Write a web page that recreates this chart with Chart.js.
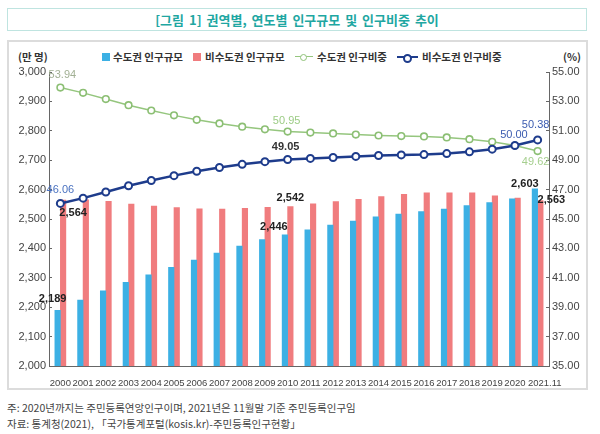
<!DOCTYPE html>
<html><head><meta charset="utf-8">
<script src="https://cdn.jsdelivr.net/npm/chart.js@4/dist/chart.umd.min.js"></script>
<style>
html,body{margin:0;padding:0;background:#fff;}
#wrap{position:relative;width:600px;height:434px;overflow:hidden;font-family:"Noto Sans CJK KR","Noto Sans",sans-serif;}
#titlebox{position:absolute;left:7px;top:8px;width:578px;height:21px;border:1px solid #bfe4e0;text-align:center;line-height:21px;color:#1fa7a2;font-weight:bold;font-size:13px;word-spacing:2px;}
#chartbox{position:absolute;left:7px;top:40px;width:577px;height:346px;border:2px solid #dcdcdc;}
.t{position:absolute;white-space:nowrap;font-size:10.5px;color:#333;line-height:14px;}
.lg{font-weight:bold;}
.sq{position:absolute;width:8px;height:8px;}
.ln{position:absolute;height:0;}
.mk{position:absolute;width:5px;height:5px;border-radius:50%;background:#fff;}
.fn{position:absolute;left:7px;font-size:10.5px;color:#444;white-space:nowrap;line-height:14px;}
canvas{position:absolute;left:0;top:0;}
</style></head>
<body><div id="wrap">
<div id="titlebox">[그림 1] 권역별, 연도별 인구규모 및 인구비중 추이</div>
<div id="chartbox"></div>
<div class="t lg" style="left:18px;top:50px;">(만 명)</div>
<div class="sq" style="left:102px;top:53px;background:#3cb0e4;"></div>
<div class="t lg" style="left:113px;top:50px;">수도권 인구규모</div>
<div class="sq" style="left:193px;top:53px;background:#f07c7e;"></div>
<div class="t lg" style="left:205px;top:50px;">비수도권 인구규모</div>
<div class="ln" style="left:295px;top:56px;width:18px;border-top:1.5px solid #95c67e;"></div>
<div class="mk" style="left:300px;top:53.5px;border:1.5px solid #8fc278;"></div>
<div class="t lg" style="left:317px;top:50px;">수도권 인구비중</div>
<div class="ln" style="left:397px;top:56px;width:21px;border-top:2.5px solid #1e3c8c;"></div>
<div class="mk" style="left:403px;top:53.5px;border:2px solid #1e3c8c;"></div>
<div class="t lg" style="left:422px;top:50px;">비수도권 인구비중</div>
<div class="t lg" style="left:563px;top:50px;">(%)</div>
<div class="fn" style="top:401px;">주: 2020년까지는 주민등록연앙인구이며, 2021년은 11월말 기준 주민등록인구임</div>
<div class="fn" style="top:417px;">자료: 통계청(2021), 「국가통계포털(kosis.kr)-주민등록인구현황」</div>
<canvas id="c" width="600" height="434"></canvas>
</div>
<script>
const years = ['2000','2001','2002','2003','2004','2005','2006','2007','2008','2009','2010','2011','2012','2013','2014','2015','2016','2017','2018','2019','2020','2021.11'];
const capitalPop = [2189,2224,2256,2285,2310,2336,2360,2384,2408,2430,2446,2463,2479,2493,2507,2517,2525,2534,2546,2556,2569,2603];
const nonCapitalPop = [2564,2565,2560,2551,2544,2539,2535,2534,2536,2540,2542,2552,2559,2567,2576,2584,2589,2589,2589,2579,2571,2563];
const capitalShare = [53.94,53.58,53.16,52.74,52.38,52.05,51.75,51.50,51.28,51.10,50.95,50.88,50.82,50.74,50.68,50.64,50.62,50.55,50.43,50.25,50.00,49.62];
const nonCapitalShare = [46.06,46.42,46.84,47.26,47.62,47.95,48.25,48.50,48.72,48.90,49.05,49.12,49.18,49.26,49.32,49.36,49.38,49.45,49.57,49.75,50.00,50.38];
const leftAxis = {min:2000, max:3000, step:100};
const rightAxis = {min:35, max:55, step:2};

const fmtPop = v => Number(v).toLocaleString('en-US');
const fmtPct = v => Number(v).toFixed(2);

// dataset index, data index, formatter, dx, dy, color, bold
const dataLabels = [
  [0, 0, fmtPop, -5, -11, '#222', true],
  [1, 0, fmtPop, 10, 13, '#222', true],
  [0, 10, fmtPop, -11, -8, '#222', true],
  [1, 10, fmtPop, 0, -9, '#222', true],
  [0, 21, fmtPop, -10, -5, '#222', true],
  [1, 21, fmtPop, 11, -1, '#222', true],
  [2, 0, fmtPct, 2, -13, '#a2b094', false],
  [2, 10, fmtPct, -1, -11, '#9ccc85', false],
  [2, 21, fmtPct, -2, 11, '#a6cf8f', false],
  [3, 0, fmtPct, 0, -13, '#4a72c0', false],
  [3, 10, fmtPct, -2, -12, '#333', true],
  [3, 20, fmtPct, -1, -10.5, '#3c5cb0', false],
  [3, 21, fmtPct, -2, -15, '#3c5cb0', false]
];

const labelPlugin = {
  id: 'dl',
  afterDatasetsDraw(chart) {
    const ctx = chart.ctx;
    ctx.save();
    ctx.textAlign = 'center';
    ctx.textBaseline = 'middle';
    dataLabels.forEach(([ds, i, f, dx, dy, col, bold]) => {
      const el = chart.getDatasetMeta(ds).data[i];
      const v = chart.data.datasets[ds].data[i];
      ctx.font = (bold ? 'bold ' : '') + '11px "Liberation Sans", Arial, sans-serif';
      ctx.fillStyle = col;
      ctx.fillText(f(v), el.x + dx, el.y + dy);
    });
    ctx.restore();
  }
};

const tickFont = {family: '"Liberation Sans", Arial, sans-serif', size: 11};
new Chart(document.getElementById('c'), {
  data: {
    labels: years,
    datasets: [
      {type:'bar', label:'수도권 인구규모', data: capitalPop, backgroundColor:'#3cb0e4', barThickness:5.5, yAxisID:'y', order:3},
      {type:'bar', label:'비수도권 인구규모', data: nonCapitalPop, backgroundColor:'#f07c7e', barThickness:5.5, yAxisID:'y', order:3},
      {type:'line', label:'수도권 인구비중', data: capitalShare, borderColor:'#95c67e', borderWidth:1.5, pointRadius:3.3, pointBorderWidth:1.6, pointBackgroundColor:'#fff', pointBorderColor:'#8cbf74', yAxisID:'y1', order:2, tension:0},
      {type:'line', label:'비수도권 인구비중', data: nonCapitalShare, borderColor:'#1e3c8c', borderWidth:2.5, pointRadius:3.5, pointBorderWidth:2, pointBackgroundColor:'#fff', pointBorderColor:'#1e3c8c', yAxisID:'y1', order:1, tension:0}
    ]
  },
  options: {
    responsive:false, animation:false,
    layout:{padding:{top:72,left:0,right:0,bottom:0}},
    plugins:{legend:{display:false}, tooltip:{enabled:false}},
    scales:{
      x:{
        grid:{display:false},
        border:{display:true,color:'#666',width:1},
        ticks:{color:'#444',font:{family:'"Liberation Sans", Arial, sans-serif',size:9.5},maxRotation:0,minRotation:0,autoSkip:false,padding:4,
          callback:(v,i)=> i===years.length-1 ? '\u2002\u2002\u2002' + years[i] : years[i]},
        afterFit(s){s.height=68;}
      },
      y:{
        position:'left', min:leftAxis.min, max:leftAxis.max,
        ticks:{stepSize:leftAxis.step, callback:v=>fmtPop(v), color:'#444', font:tickFont, padding:6},
        grid:{drawOnChartArea:false, drawTicks:true, tickLength:-3, color:'#666'},
        border:{display:true,color:'#666',width:1},
        afterFit(s){s.width=49;}
      },
      y1:{
        position:'right', min:rightAxis.min, max:rightAxis.max,
        ticks:{stepSize:rightAxis.step, callback:v=>fmtPct(v), color:'#444', font:tickFont, padding:6},
        grid:{drawOnChartArea:false, drawTicks:true, tickLength:-3, color:'#666'},
        border:{display:true,color:'#666',width:1},
        afterFit(s){s.width=51;}
      }
    }
  },
  plugins:[labelPlugin]
});
</script>
</body></html>
